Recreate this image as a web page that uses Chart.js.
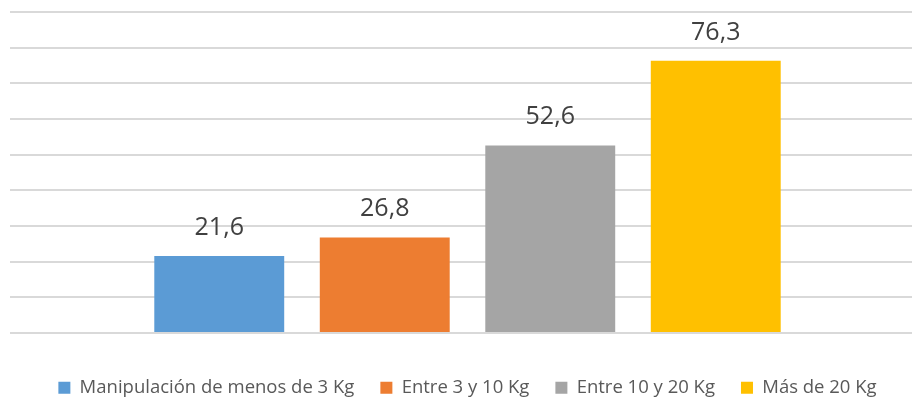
<!DOCTYPE html>
<html>
<head>
<meta charset="utf-8">
<script src="https://cdn.jsdelivr.net/npm/chart.js@4.4.1/dist/chart.umd.min.js"></script>
<style>
  html, body { margin: 0; padding: 0; background: #ffffff; overflow: hidden; }
  #wrap { width: 940px; height: 399px; }
</style>
</head>
<body>
<div id="wrap"><canvas id="chart" width="940" height="399"></canvas></div>
<script>
// Carga manipulada, porcentaje por rango de peso
const categories = ['Carga'];
const seriesNames = ['Manipulación de menos de 3 Kg', 'Entre 3 y 10 Kg', 'Entre 10 y 20 Kg', 'Más de 20 Kg'];
const seriesValues = [21.6, 26.8, 52.6, 76.3];
const seriesColors = ['#5B9BD5', '#ED7D31', '#A5A5A5', '#FFC000'];
const yTicks = [0, 10, 20, 30, 40, 50, 60, 70, 80, 90];

const fmt = v => String(v).replace('.', ',');

// Value labels above each bar, placed from the bar element itself
const valueLabels = {
  id: 'valueLabels',
  afterDatasetsDraw(chart) {
    const ctx = chart.ctx;
    ctx.save();
    ctx.font = '25px "Open Sans"';
    ctx.fillStyle = '#404040';
    ctx.textAlign = 'center';
    ctx.textBaseline = 'alphabetic';
    chart.data.datasets.forEach((ds, i) => {
      const meta = chart.getDatasetMeta(i);
      meta.data.forEach((bar, j) => {
        ctx.fillText(fmt(ds.data[j]), bar.x, bar.y - 21);
      });
    });
    ctx.restore();
  }
};

new Chart(document.getElementById('chart'), {
  type: 'bar',
  data: {
    labels: categories,
    datasets: seriesNames.map((name, i) => ({
      label: name,
      data: [seriesValues[i]],
      backgroundColor: seriesColors[i],
      borderWidth: 0,
      categoryPercentage: 0.7235,
      barPercentage: 0.785
    }))
  },
  options: {
    responsive: false,
    animation: false,
    layout: { padding: { left: 10, right: 15, top: 12, bottom: -8 } },
    plugins: {
      tooltip: { enabled: false },
      legend: {
        position: 'bottom',
        labels: {
          boxWidth: 12,
          boxHeight: 12,
          padding: 26,
          color: '#595959',
          font: { family: '"Open Sans"', size: 18.5 }
        }
      }
    },
    scales: {
      x: {
        display: true,
        ticks: { display: false },
        grid: { display: false },
        border: { display: false },
        afterFit(axis) { axis.height = 19.5; }
      },
      y: {
        min: 0,
        max: 90,
        afterBuildTicks(axis) { axis.ticks = yTicks.map(v => ({ value: v })); },
        ticks: { display: false },
        border: { display: false },
        grid: { color: '#d9d9d9', lineWidth: 2, drawTicks: false }
      }
    }
  },
  plugins: [valueLabels]
});
</script>
</body>
</html>
